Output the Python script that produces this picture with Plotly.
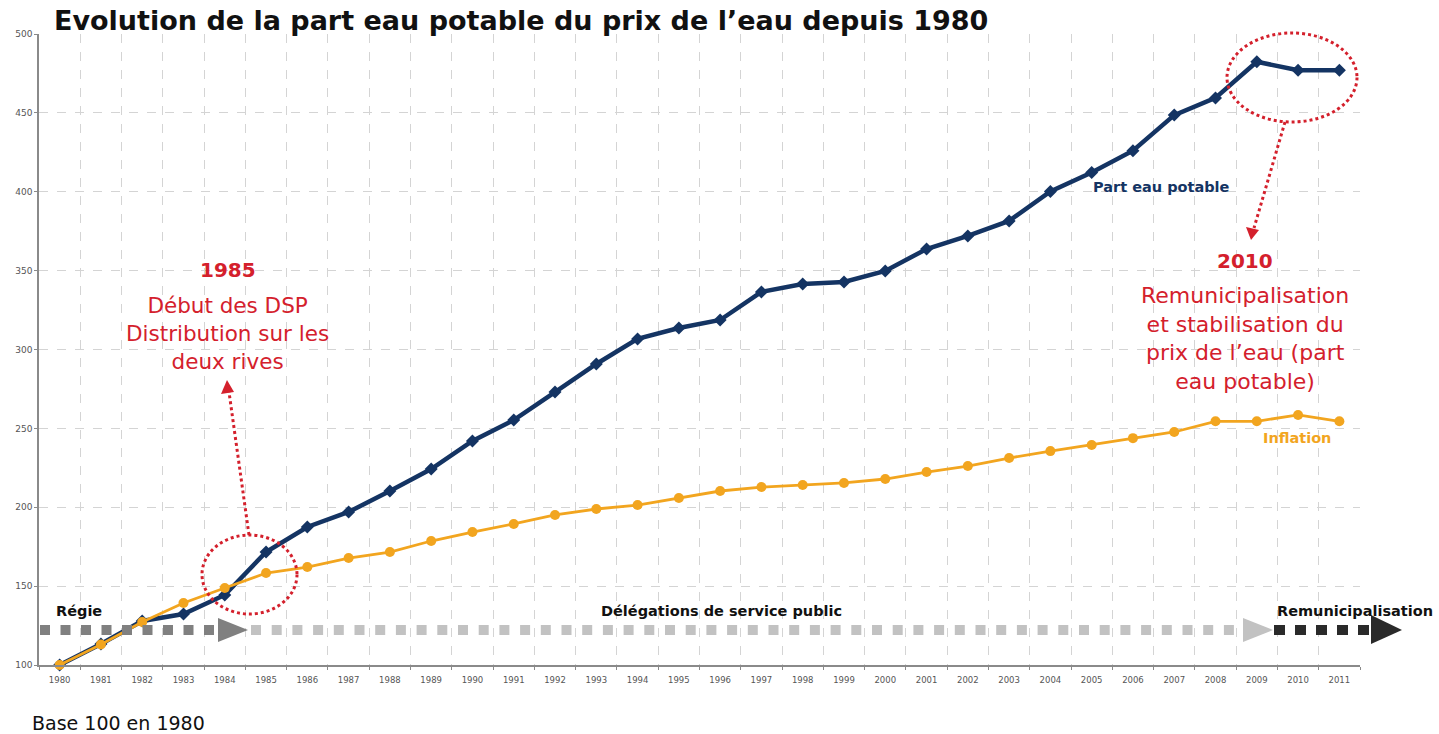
import plotly.graph_objects as go

# ---------------- data ----------------
years = [str(y) for y in range(1980, 2012)]
part_eau_potable = [100, 113.3, 127.9, 132.3, 144.4, 171.6, 187.5, 197.0, 210.3, 224.2,
                    242.0, 255.3, 273.0, 290.8, 306.7, 313.6, 318.7, 336.5, 341.5, 342.8,
                    349.8, 363.7, 372.0, 381.5, 400.2, 412.2, 426.0, 448.6, 459.5, 482.4,
                    477.0, 477.0]
inflation = [100, 113.0, 127.3, 139.3, 148.8, 158.3, 162.1, 167.8, 171.6, 178.6,
             184.3, 189.4, 195.1, 198.9, 201.4, 205.9, 210.3, 212.8, 214.1, 215.4,
             217.9, 222.3, 226.1, 231.2, 235.6, 239.5, 243.8, 247.7, 254.5, 254.5,
             258.5, 254.5]
y_ticks = [100, 150, 200, 250, 300, 350, 400, 450, 500]

NAVY = "#143463"
ORANGE = "#f2a51f"
RED = "#d4202c"
FONT = "DejaVu Sans"

W, H = 1439, 734
L, R, T, B = 39, 1360, 34, 665   # plot area in window pixels


def px(x):
    return (x - L) / (R - L)


def py(y):
    return (B - y) / (B - T)


fig = go.Figure()
fig.add_trace(go.Scatter(
    x=years, y=part_eau_potable, mode="lines+markers", name="Part eau potable",
    line=dict(color=NAVY, width=4.5), marker=dict(symbol="diamond", size=10, color=NAVY),
    cliponaxis=False, showlegend=False))
fig.add_trace(go.Scatter(
    x=years, y=inflation, mode="lines+markers", name="Inflation",
    line=dict(color=ORANGE, width=2.8), marker=dict(symbol="circle", size=10, color=ORANGE),
    cliponaxis=False, showlegend=False))

shapes = []


def seg(x0, x1, y, color, width, dash):
    shapes.append(dict(type="line", xref="paper", yref="paper", x0=px(x0), x1=px(x1),
                       y0=py(y), y1=py(y), line=dict(color=color, width=width, dash=dash)))


def tri(pts, color):
    path = "M " + " L ".join(f"{px(a)},{py(b)}" for a, b in pts) + " Z"
    shapes.append(dict(type="path", xref="paper", yref="paper", path=path,
                       fillcolor=color, line=dict(color=color, width=0)))


# timeline arrows
seg(40, 218, 630, "#808080", 10, "10px,10.5px")
tri([(218, 618), (248, 630), (218, 642)], "#808080")
seg(251, 1243, 630, "#c2c2c2", 10, "10px,10.7px")
tri([(1243, 618), (1273, 630), (1243, 642)], "#c2c2c2")
seg(1274, 1371, 630, "#2a2a2a", 10, "11px,10px")
tri([(1371, 615), (1402, 630), (1371, 644)], "#2a2a2a")

# red dotted circles and arrows
shapes.append(dict(type="circle", xref="paper", yref="paper", x0=px(202), x1=px(297),
                   y0=py(614), y1=py(535), line=dict(color=RED, width=3, dash="dot")))
shapes.append(dict(type="circle", xref="paper", yref="paper", x0=px(1227), x1=px(1357),
                   y0=py(122), y1=py(33), line=dict(color=RED, width=3, dash="dot")))
shapes.append(dict(type="line", xref="paper", yref="paper", x0=px(249), y0=py(535),
                   x1=px(229), y1=py(392), line=dict(color=RED, width=3, dash="dot")))
tri([(227, 380), (221, 394), (234, 392)], RED)
shapes.append(dict(type="line", xref="paper", yref="paper", x0=px(1285), y0=py(122),
                   x1=px(1254), y1=py(228), line=dict(color=RED, width=3, dash="dot")))
tri([(1251, 240), (1246, 227), (1259, 230)], RED)

annotations = []


def txt(text, x, y, size, color, bold=False, xanchor="center"):
    annotations.append(dict(
        text=f"<b>{text}</b>" if bold else text, xref="paper", yref="paper",
        x=px(x), y=py(y), xanchor=xanchor, yanchor="middle", showarrow=False,
        font=dict(size=size, color=color, family=FONT), align="center"))


txt("Evolution de la part eau potable du prix de l’eau depuis 1980", 52, 21, 27,
    "#111111", bold=True, xanchor="left")
txt("1985", 228, 270, 20, RED, bold=True)
txt("Début des DSP<br>Distribution sur les<br>deux rives", 227, 333, 21.5, RED)
txt("2010", 1245, 261, 20, RED, bold=True)
txt("Remunicipalisation<br>et stabilisation du<br>prix de l’eau (part<br>eau potable)", 1245, 338, 22, RED)
txt("Part eau potable", 1161, 187, 14.5, NAVY, bold=True)
txt("Inflation", 1297, 438, 14.5, ORANGE, bold=True)
txt("Régie", 79, 611, 14.5, "#111111", bold=True)
txt("Délégations de service public", 721, 611, 14.5, "#111111", bold=True)
txt("Remunicipalisation", 1355, 611, 14.5, "#111111", bold=True)
txt("Base 100 en 1980", 30, 723, 19, "#111111", xanchor="left")

fig.update_layout(
    width=W, height=H,
    margin=dict(l=L, r=W - R, t=T, b=H - B),
    plot_bgcolor="white", paper_bgcolor="white",
    shapes=shapes, annotations=annotations,
    xaxis=dict(type="category", range=[-0.5, 31.5], tickson="boundaries",
               showgrid=True, gridcolor="#d4d4d4", griddash="dash", gridwidth=1,
               showline=True, linecolor="#8a8a8a", linewidth=1.5,
               ticks="outside", ticklen=3, tickcolor="#8a8a8a",
               ticklabelstandoff=6,
               tickfont=dict(size=8.5, color="#555555", family=FONT),
               zeroline=False, fixedrange=True),
    yaxis=dict(range=[100, 500], tickvals=y_ticks,
               showgrid=True, gridcolor="#d4d4d4", griddash="dash", gridwidth=1,
               showline=True, linecolor="#8a8a8a", linewidth=1.5,
               ticks="outside", ticklen=3, tickcolor="#8a8a8a",
               tickfont=dict(size=9, color="#555555", family=FONT),
               zeroline=False, fixedrange=True),
)

# remove the browser's default 8px page margin so the figure fills the window
fig.write_html("out.html", config={"displayModeBar": False},
               post_script="document.body.style.margin='0px';")
